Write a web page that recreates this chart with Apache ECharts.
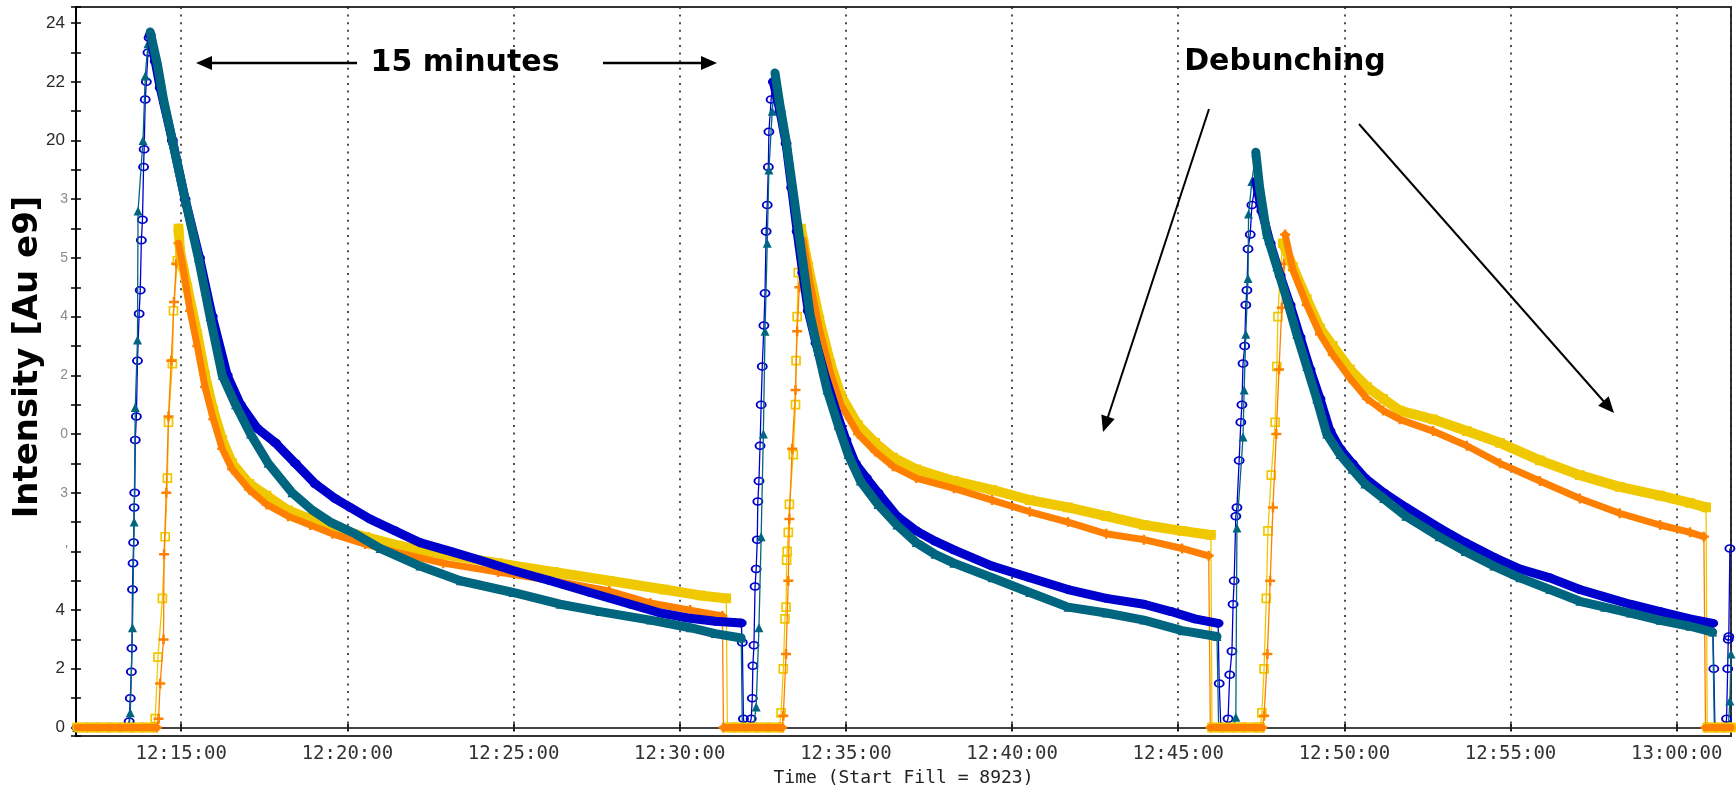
<!DOCTYPE html>
<html><head><meta charset="utf-8">
<script src="https://cdn.jsdelivr.net/npm/echarts@6/dist/echarts.min.js"></script>
<style>html,body{margin:0;padding:0;background:#fff}#c{width:1736px;height:786px}</style>
</head><body><div id="c"></div>
<script>
// Times are seconds after 12:00:00, values are intensity [Au e9]
const xTitle = 'Time (Start Fill = 8923)';
const yTitle = 'Intensity [Au e9]';
const xRange = [710, 3698];
const yRange = [-0.29, 24.55];
const yTickValues = [0, 2, 4, 6, 8, 10, 12, 14, 16, 18, 20, 22, 24];
const yTickLabels = ['0', '2', '4', "'", '3', '0', '2', '4', '5', '3', '20', '22', '24'];
const yTickFragment = [false, false, false, true, true, true, true, true, true, true, false, false, false];

const blueTrace = [
  [712,0],[740,0],[770,0],[800,0],[806,0.2],
  [808,1.0],[810,1.9],[811,2.7],[812,4.7],[813,5.6],[814,6.3],[815,7.5],[816,8.0],[817,9.8],[819,10.6],[821,12.5],[824,14.1],[826,14.9],[828,16.6],[830,17.3],[832,19.1],[833,19.7],[835,21.4],[837,22.0],[840,23.0],[842,23.5],
  [844,23.6],[853,22.7],[862,21.8],[884,20.0],[907,18.0],[933,16.0],[956,14.0],[983,12.0],[1007,11.0],[1037,10.2],[1070,9.7],[1106,9.0],[1142,8.3],[1178,7.8],[1205,7.5],[1241,7.1],[1286,6.7],[1331,6.3],[1386,6.0],[1440,5.7],[1499,5.35],[1566,5.0],[1638,4.6],[1711,4.2],[1765,3.9],[1815,3.73],[1864,3.62],[1911,3.56],
  [1913,2.9],[1915,0.3],[1918,0],[1924,0],
  [1929,0.3],[1931,1.0],[1932,2.1],[1934,2.8],[1936,4.8],[1938,5.4],[1940,6.4],[1941,7.7],[1943,8.4],[1945,9.6],[1947,11.0],[1949,12.3],[1952,13.7],[1954,14.8],[1956,16.9],[1958,17.8],[1960,19.1],[1961,20.3],[1965,21.4],
  [1969,22.0],[1981,21.0],[1992,19.9],[2002,18.4],[2012,16.9],[2022,15.5],[2032,14.2],[2046,13.1],[2062,12.0],[2082,10.8],[2100,9.8],[2117,9.0],[2137,8.5],[2158,8.0],[2192,7.2],[2227,6.7],[2261,6.35],[2295,6.05],[2364,5.5],[2432,5.1],[2501,4.7],[2570,4.4],[2638,4.2],[2687,3.95],[2730,3.7],[2772,3.55],
  [2774,1.5],[2777,0],[2784,0],
  [2790,0.3],[2793,1.8],[2797,2.6],[2799,4.2],[2801,5.0],[2804,7.2],[2806,7.5],[2810,9.1],[2813,10.4],[2815,11.0],[2817,12.4],[2820,13.0],[2822,14.4],[2824,14.9],[2826,16.3],[2830,16.8],[2833,17.8],
  [2840,18.6],[2851,17.6],[2866,16.5],[2884,15.4],[2902,14.4],[2920,13.3],[2938,12.2],[2956,11.2],[2974,10.1],[2992,9.5],[3014,9.0],[3037,8.5],[3071,8.0],[3111,7.5],[3171,6.8],[3218,6.3],[3270,5.8],[3317,5.4],[3371,5.1],[3425,4.7],[3470,4.45],[3516,4.2],[3570,3.95],[3624,3.7],[3665,3.55],
  [3667,2.0],[3669,0],[3680,0],[3688,0],
  [3690,0.3],[3692,2.0],[3693,3.0],[3694,3.1],[3696,6.1]
];
const blueBandSpans = [[844,1911],[1969,2772],[2840,3665]];

const tealTrace = [
  [712,0],[728,0],[745,0],[762,0],[779,0],[796,0],[806,0],
  [808,0.5],[812,3.4],[815,7.0],[817,10.9],[821,13.2],[822,17.6],[831,20.0],[835,22.2],[840,23.3],
  [844,23.7],[857,22.6],[868,21.4],[884,20.0],[907,18.0],[931,16.0],[952,14.0],[974,12.0],[998,11.0],[1025,10.0],[1057,9.0],[1100,8.0],[1137,7.4],[1169,7.0],[1214,6.6],[1259,6.1],[1331,5.5],[1404,5.0],[1499,4.6],[1584,4.2],[1656,3.95],[1747,3.66],[1819,3.4],[1864,3.2],[1911,3.05],
  [1913,0],[1925,0],[1933,0],
  [1938,0.7],[1943,3.4],[1947,6.5],[1951,10.0],[1954,13.5],[1958,16.5],[1961,19.0],[1967,21.0],
  [1972,22.3],[1981,21.2],[1992,20.0],[2003,18.5],[2014,17.0],[2025,15.5],[2035,14.1],[2050,12.8],[2066,11.5],[2086,10.3],[2104,9.3],[2126,8.4],[2158,7.6],[2192,6.9],[2227,6.3],[2261,5.9],[2295,5.6],[2364,5.1],[2432,4.6],[2501,4.1],[2570,3.9],[2638,3.66],[2707,3.3],[2770,3.1],
  [2773,0],[2785,0],[2800,0],
  [2804,0.35],[2806,6.8],[2817,9.9],[2819,11.5],[2822,13.4],[2826,15.3],[2827,17.5],[2833,18.6],
  [2840,19.6],[2847,18.4],[2860,16.8],[2878,15.7],[2896,14.6],[2914,13.4],[2932,12.3],[2950,11.2],[2968,10.0],[2992,9.3],[3014,8.8],[3037,8.3],[3071,7.8],[3111,7.2],[3171,6.5],[3218,6.0],[3270,5.5],[3317,5.1],[3371,4.7],[3425,4.3],[3470,4.1],[3516,3.9],[3570,3.65],[3624,3.45],[3665,3.25],
  [3668,0],[3680,0],[3693,0],
  [3696,0.9],[3698,2.5]
];
const tealBandSpans = [[844,1911],[1972,2770],[2840,3665]];

const yellowTrace = [
  [712,0],[730,0],[750,0],[770,0],[790,0],[810,0],[830,0],[849,0],
  [853,0.3],[858,2.4],[866,4.4],[871,6.5],[875,8.5],[877,10.4],[884,12.4],[886,14.2],[893,15.9],
  [895,17.0],[898,16.2],[911,15.0],[929,13.4],[943,12.0],[958,10.8],[974,9.8],[992,9.0],[1023,8.3],[1054,7.9],[1093,7.4],[1133,7.1],[1173,6.8],[1232,6.5],[1292,6.2],[1373,5.9],[1472,5.6],[1572,5.3],[1673,5.0],[1772,4.7],[1837,4.5],[1884,4.4],
  [1886,0],[1900,0],[1920,0],[1940,0],[1960,0],[1980,0],
  [1983,0.5],[1987,2.0],[1990,3.7],[1992,4.1],[1993,5.7],[1994,6.0],[1996,6.65],[1998,7.6],[2005,9.3],[2009,11.0],[2010,12.5],[2012,14.0],[2014,15.5],[2016,16.5],
  [2019,17.0],[2032,15.7],[2052,13.9],[2072,12.4],[2091,11.3],[2122,10.3],[2153,9.7],[2185,9.2],[2227,8.8],[2295,8.4],[2364,8.1],[2432,7.75],[2501,7.5],[2570,7.2],[2638,6.9],[2707,6.7],[2759,6.56],
  [2761,0],[2780,0],[2800,0],[2820,0],[2840,0],[2848,0],
  [2851,0.5],[2855,2.0],[2859,4.4],[2862,6.7],[2868,8.6],[2875,10.4],[2878,12.3],[2880,14.0],[2884,15.5],
  [2889,16.5],[2907,15.7],[2932,14.6],[2956,13.6],[2979,13.0],[3010,12.2],[3041,11.6],[3070,11.2],[3100,10.8],[3160,10.5],[3221,10.1],[3281,9.7],[3353,9.1],[3425,8.6],[3497,8.2],[3570,7.9],[3624,7.65],[3653,7.5],
  [3655,0],[3670,0],[3685,0],[3698,0]
];
const yellowBandSpans = [[710,849],[895,1884],[1886,1980],[2019,2759],[2761,2848],[2889,3653],[3655,3698]];

const orangeTrace = [
  [712,0],[730,0],[750,0],[770,0],[790,0],[810,0],[830,0],[850,0],[856,0],
  [859,0.3],[862,1.5],[868,3.0],[869,5.9],[873,8.0],[877,10.6],[882,12.5],[887,14.5],[891,15.8],
  [895,16.5],[904,15.6],[916,14.2],[929,13.0],[943,11.6],[958,10.5],[974,9.5],[992,8.8],[1023,8.1],[1054,7.6],[1093,7.2],[1133,6.9],[1173,6.6],[1232,6.25],[1292,5.95],[1373,5.6],[1472,5.3],[1572,5.0],[1673,4.65],[1747,4.24],[1819,4.0],[1877,3.8],
  [1879,0],[1900,0],[1920,0],[1940,0],[1960,0],[1980,0],[1985,0],
  [1987,0.4],[1992,2.5],[1996,5.0],[1998,7.1],[2003,9.5],[2009,11.5],[2012,13.5],[2016,15.0],[2019,16.0],
  [2023,16.6],[2035,15.2],[2052,13.6],[2072,12.1],[2091,11.0],[2122,10.0],[2153,9.4],[2185,8.9],[2227,8.5],[2295,8.15],[2364,7.75],[2432,7.35],[2501,7.0],[2570,6.6],[2638,6.4],[2707,6.1],[2755,5.85],
  [2758,0],[2780,0],[2800,0],[2820,0],[2840,0],[2852,0],
  [2855,0.4],[2861,2.5],[2866,5.0],[2871,7.5],[2877,10.0],[2882,12.2],[2887,14.3],[2891,15.8],
  [2893,16.8],[2907,15.6],[2932,14.4],[2956,13.4],[2979,12.7],[3010,11.9],[3041,11.2],[3070,10.8],[3100,10.5],[3160,10.1],[3221,9.6],[3281,9.0],[3353,8.4],[3425,7.8],[3497,7.3],[3570,6.9],[3624,6.65],[3649,6.5],
  [3652,0],[3670,0],[3685,0],[3698,0]
];
const orangeBandSpans = [[710,856],[895,1877],[1879,1985],[2023,2755],[2758,2852],[2893,3649],[3652,3698]];

const annotations = [
  {text: '15 minutes', x: 465, y: 63},
  {text: 'Debunching', x: 1285, y: 62}
];
const arrows = [
  [357, 63, 196, 63, 2.5],
  [603, 63, 717, 63, 2.5],
  [1209, 109, 1103, 432, 2],
  [1359, 124, 1614, 413, 2]
];

function bandOf(trace, spans) {
  const out = []; let prev = -1;
  for (const p of trace) {
    const k = spans.findIndex(s => p[0] >= s[0] && p[0] <= s[1]);
    if (k < 0) { if (prev >= 0) out.push([p[0], '-']); prev = -1; continue; }
    if (prev >= 0 && k !== prev) out.push([p[0] - 0.5, '-']);
    out.push(p); prev = k;
  }
  return out;
}
function clock(s) {
  const t = 12 * 3600 + Math.round(s);
  const p = n => String(n).padStart(2, '0');
  return p(Math.floor(t / 3600)) + ':' + p(Math.floor(t % 3600 / 60)) + ':' + p(t % 60);
}
function trace(name, color, data, symbol, size, hollow, z) {
  return {name, type: 'line', data, symbol, symbolSize: size, showSymbol: true, showAllSymbol: true,
    lineStyle: {width: 1.3, color},
    itemStyle: {color: hollow ? 'rgba(255,255,255,0)' : color, borderColor: color, borderWidth: hollow ? 1.7 : 0},
    z, silent: true, animation: false, clip: true};
}
function band(name, color, data, width, z) {
  return {name: name + ' band', type: 'line', data, symbol: 'none', connectNulls: false,
    lineStyle: {width, color, join: 'round', cap: 'round'}, z, silent: true, animation: false, clip: true};
}
function arrowGraphics(a) {
  const [x1, y1, x2, y2, w] = a;
  const dx = x2 - x1, dy = y2 - y1, L = Math.hypot(dx, dy), ux = dx / L, uy = dy / L, hl = 16, hw = 7;
  const bx = x2 - ux * hl, by = y2 - uy * hl;
  return [
    {type: 'line', shape: {x1, y1, x2: bx + ux * 2, y2: by + uy * 2}, style: {stroke: '#000', lineWidth: w}},
    {type: 'polygon', shape: {points: [[x2, y2], [bx - uy * hw, by + ux * hw], [bx + uy * hw, by - ux * hw]]}, style: {fill: '#000'}}
  ];
}
function yLabel(fragment) {
  return v => {
    const i = yTickValues.indexOf(Math.round(v * 100) / 100);
    if (i < 0 || yTickFragment[i] !== fragment) return '';
    return yTickLabels[i];
  };
}

const C = {blue: '#0000cc', teal: '#006680', yellow: '#f0c800', orange: '#ff8000'};
const plusPath = 'path://M3,0H5V3H8V5H5V8H3V5H0V3H3Z';

const xBase = {type: 'value', min: xRange[0], max: xRange[1], splitNumber: 10};
const yBase = {type: 'value', min: yRange[0], max: yRange[1], splitNumber: 12};

const chart = echarts.init(document.getElementById('c'), null, {renderer: 'canvas'});
chart.setOption({
  animation: false,
  backgroundColor: '#fff',
  grid: {left: 76, right: 5, top: 7, bottom: 50, show: true, borderColor: '#333', borderWidth: 2, containLabel: false, outerBoundsMode: 'none'},
  xAxis: [
    Object.assign({}, xBase, {
      position: 'bottom',
      name: xTitle, nameLocation: 'middle', nameGap: 31,
      nameTextStyle: {fontFamily: 'DejaVu Sans Mono', fontSize: 18, color: '#222'},
      axisLine: {show: true, lineStyle: {color: '#444', width: 2}},
      axisTick: {show: true, length: 4, lineStyle: {color: '#222', width: 2}},
      axisLabel: {showMinLabel: false, showMaxLabel: false, margin: 9, fontFamily: 'DejaVu Sans Mono', fontSize: 19, color: '#333',
        formatter: v => (Math.round(v) % 300 === 0 ? clock(v) : '')},
      splitLine: {show: true, lineStyle: {type: [2, 5.6], color: '#222', width: 1.6}}
    }),
    Object.assign({}, xBase, {
      position: 'bottom', axisLine: {show: false}, axisLabel: {show: false}, splitLine: {show: false},
      axisTick: {show: true, inside: true, length: 4, lineStyle: {color: '#222', width: 2}}
    })
  ],
  yAxis: [
    Object.assign({}, yBase, {
      position: 'left',
      axisLine: {show: true, lineStyle: {color: '#000', width: 2}},
      axisTick: {show: true, length: 5, lineStyle: {color: '#000', width: 1.5}},
      minorTick: {show: true, splitNumber: 2, length: 5, lineStyle: {color: '#000', width: 1.5}},
      splitLine: {show: false},
      axisLabel: {showMinLabel: false, showMaxLabel: false, margin: 11, fontFamily: 'Liberation Sans', fontSize: 17, color: '#2a2a2a',
        formatter: yLabel(false)}
    }),
    Object.assign({}, yBase, {
      position: 'left', axisLine: {show: false}, splitLine: {show: false},
      axisTick: {show: true, inside: true, length: 5, lineStyle: {color: '#000', width: 1.5}},
      minorTick: {show: true, splitNumber: 2, length: 5, lineStyle: {color: '#000', width: 1.5}},
      axisLabel: {showMinLabel: false, showMaxLabel: false, margin: 8, fontFamily: 'Liberation Sans', fontSize: 14, color: '#8a8a8a',
        formatter: yLabel(true)}
    })
  ],
  series: [
    trace('yellow', C.yellow, yellowTrace, 'rect', 8, true, 2),
    trace('orange', C.orange, orangeTrace, plusPath, 10, false, 3),
    trace('blue', C.blue, blueTrace, 'circle', [9, 7], true, 4),
    trace('teal', C.teal, tealTrace, 'triangle', 9, false, 5),
    band('yellow', C.yellow, bandOf(yellowTrace, yellowBandSpans), 10, 6),
    band('orange', C.orange, bandOf(orangeTrace, orangeBandSpans), 7, 7),
    band('blue', C.blue, bandOf(blueTrace, blueBandSpans), 9, 8),
    band('teal', C.teal, bandOf(tealTrace, tealBandSpans), 9, 9)
  ],
  graphic: [
    {type: 'text', x: 28, y: 357, rotation: Math.PI / 2, z: 100,
      style: {text: yTitle, font: 'bold 34px "DejaVu Sans"', fill: '#000', align: 'center', verticalAlign: 'middle'}}
  ].concat(annotations.map(a => ({type: 'text', x: a.x, y: a.y, z: 100,
      style: {text: a.text, font: 'bold 30px "DejaVu Sans"', fill: '#000', align: 'center', verticalAlign: 'middle'}})))
   .concat(arrows.flatMap(arrowGraphics).map(g => Object.assign(g, {z: 100})))
});
</script></body></html>
